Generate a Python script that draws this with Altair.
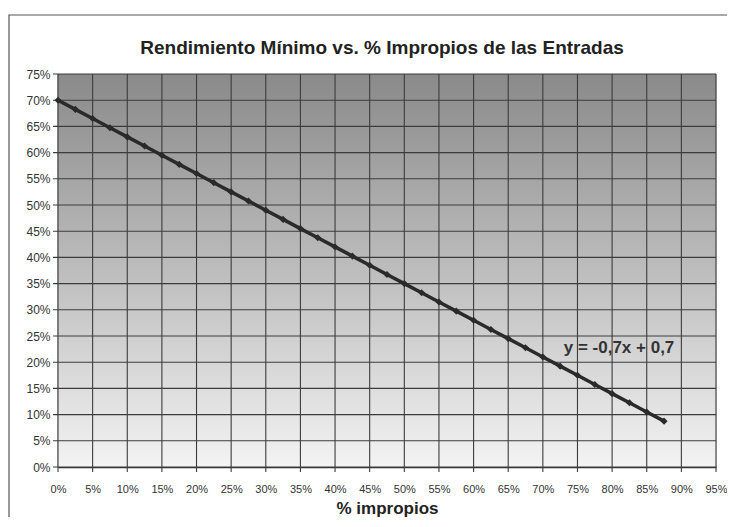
import altair as alt
import pandas as pd

# data
impropios = [0.0, 0.025, 0.05, 0.075, 0.1, 0.125, 0.15, 0.175, 0.2, 0.225,
             0.25, 0.275, 0.3, 0.325, 0.35, 0.375, 0.4, 0.425, 0.45, 0.475,
             0.5, 0.525, 0.55, 0.575, 0.6, 0.625, 0.65, 0.675, 0.7, 0.725,
             0.75, 0.775, 0.8, 0.825, 0.85, 0.875]
rendimiento = [0.7, 0.6825, 0.665, 0.6475, 0.63, 0.6125, 0.595, 0.5775, 0.56, 0.5425,
               0.525, 0.5075, 0.49, 0.4725, 0.455, 0.4375, 0.42, 0.4025, 0.385, 0.3675,
               0.35, 0.3325, 0.315, 0.2975, 0.28, 0.2625, 0.245, 0.2275, 0.21, 0.1925,
               0.175, 0.1575, 0.14, 0.1225, 0.105, 0.0875]
x_ticks = [0.0, 0.05, 0.1, 0.15, 0.2, 0.25, 0.3, 0.35, 0.4, 0.45,
           0.5, 0.55, 0.6, 0.65, 0.7, 0.75, 0.8, 0.85, 0.9, 0.95]
y_ticks = [0.0, 0.05, 0.1, 0.15, 0.2, 0.25, 0.3, 0.35, 0.4, 0.45,
           0.5, 0.55, 0.6, 0.65, 0.7, 0.75]
title_text = "Rendimiento Mínimo vs. % Impropios de las Entradas"
equation = "y = -0,7x + 0,7"
eq_pos = {"x": [0.81], "y": [0.227], "t": [equation]}

df = pd.DataFrame({"x": impropios, "y": rendimiento})

W, H = 658, 393
PL, PT, PR, PB = 50, 66, 11, 50
FONT = "'Liberation Sans Narrow', 'Liberation Sans', Arial, sans-serif"
GRID = "#3c3c3c"

xs = alt.Scale(domain=[0, 0.95], nice=False, zero=False)
ys = alt.Scale(domain=[0, 0.75], nice=False, zero=False)
one = pd.DataFrame({"a": [0]})

xaxis = alt.Axis(values=x_ticks, format=".0%", title="% impropios",
                 grid=False, domainColor="#333", domainWidth=1.5,
                 ticks=False, labelFont=FONT, labelFontSize=11,
                 labelColor="#333", labelPadding=16, labelOverlap=False,
                 labelFlush=False, labelBound=False, titleFont=FONT,
                 titleFontSize=17, titleFontWeight="bold",
                 titleColor="#222", titlePadding=6)
yaxis = alt.Axis(values=y_ticks, format=".0%", title=None,
                 grid=False, domainColor="#333", domainWidth=1.5,
                 ticks=False, labelFont=FONT, labelFontSize=12,
                 labelColor="#333", labelPadding=8, labelOverlap=False,
                 labelFlush=False, labelBound=False)

frame = alt.Chart(one).mark_rect(
    fillOpacity=0, stroke="#555", strokeWidth=1.2
).encode(x=alt.value(-(PL - 1)), x2=alt.value(W + 30), y=alt.value(-59), y2=alt.value(H + 80))

bg = alt.Chart(one).mark_rect(
    color=alt.Gradient(
        gradient="linear",
        stops=[alt.GradientStop(offset=0, color="#8a8a8a"),
               alt.GradientStop(offset=0.5, color="#bdbdbd"),
               alt.GradientStop(offset=1, color="#f3f3f3")],
        x1=0, x2=0, y1=0, y2=1,
    )
).encode(x=alt.value(0), x2=alt.value(W), y=alt.value(0), y2=alt.value(H))

vgrid = alt.Chart(pd.DataFrame({"x": x_ticks})).mark_rule(
    color=GRID, strokeWidth=1.1
).encode(x=alt.X("x:Q", scale=xs, axis=xaxis), y=alt.value(0), y2=alt.value(H + 5))

hgrid = alt.Chart(pd.DataFrame({"y": y_ticks})).mark_rule(
    color=GRID, strokeWidth=1.1
).encode(y=alt.Y("y:Q", scale=ys, axis=yaxis), x=alt.value(-5), x2=alt.value(W))

line = alt.Chart(df).mark_line(color="#2a2a2a", strokeWidth=3.5).encode(
    x=alt.X("x:Q", scale=xs, axis=xaxis),
    y=alt.Y("y:Q", scale=ys, axis=yaxis),
)

pts = alt.Chart(df).mark_point(shape="diamond", filled=True, color="#2a2a2a",
                               size=50, opacity=1).encode(
    x=alt.X("x:Q", scale=xs, axis=xaxis), y=alt.Y("y:Q", scale=ys, axis=yaxis))

eq = alt.Chart(pd.DataFrame(eq_pos)).mark_text(
    font=FONT, fontSize=17, fontWeight="bold", color="#333",
    align="center", baseline="middle"
).encode(x=alt.X("x:Q", scale=xs, axis=xaxis), y=alt.Y("y:Q", scale=ys, axis=yaxis),
         text="t:N")

ttl = alt.Chart(pd.DataFrame({"t": [title_text]})).mark_text(
    font=FONT, fontSize=19, fontWeight="bold", color="#222",
    align="center", baseline="middle"
).encode(x=alt.value(324), y=alt.value(-26), text="t:N")

chart = alt.layer(frame, bg, vgrid, hgrid, line, pts, eq, ttl).properties(
    width=W, height=H,
    autosize=alt.AutoSizeParams(type="none"),
    padding={"left": PL, "top": PT, "right": PR, "bottom": PB},
).configure_view(stroke="#333", strokeWidth=1.2).configure(background="white")

chart.save("out.html", embed_options={"renderer": "svg", "actions": False})
